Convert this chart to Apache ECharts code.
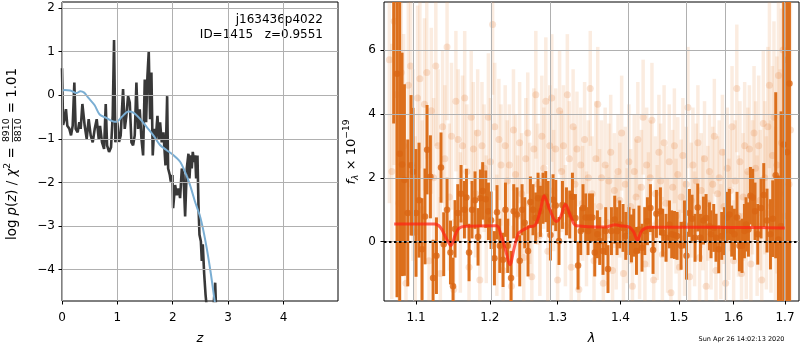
<!DOCTYPE html>
<html>
<head>
<meta charset="utf-8">
<script src="https://cdn.jsdelivr.net/npm/echarts@6/dist/echarts.min.js"></script>
<style>
html,body{margin:0;padding:0;background:#fff;}
#main{width:800px;height:350px;}
</style>
</head>
<body>
<div id="main"></div>
<script>
// ---- left panel: log p(z) ----
var pzZ = [0, 0.02, 0.045, 0.072, 0.096, 0.133, 0.163, 0.193, 0.223, 0.247, 0.283, 0.313, 0.337, 0.368, 0.386, 0.41, 0.446, 0.482, 0.518, 0.555, 0.591, 0.627, 0.663, 0.687, 0.723, 0.76, 0.79, 0.814, 0.85, 0.886, 0.916, 0.94, 0.964, 1.0, 1.03, 1.06, 1.103, 1.133, 1.163, 1.193, 1.224, 1.254, 1.284, 1.314, 1.344, 1.374, 1.404, 1.435, 1.465, 1.495, 1.519, 1.543, 1.567, 1.591, 1.615, 1.639, 1.664, 1.694, 1.724, 1.748, 1.772, 1.802, 1.832, 1.869, 1.899, 1.917, 1.947, 1.965, 1.995, 2.007, 2.043, 2.073, 2.103, 2.133, 2.164, 2.194, 2.224, 2.254, 2.284, 2.302, 2.326, 2.344, 2.362, 2.386, 2.405, 2.423, 2.447, 2.465, 2.483, 2.508, 2.525, 2.543, 2.568, 2.592, 2.616, 2.64, 2.70, 2.767, 2.785, 2.82];
var pzLog = [0.62, -0.68, -0.55, -0.32, -0.70, -0.77, -0.92, -0.70, 0.29, -0.77, -0.85, -0.62, -0.77, -0.20, -0.17, -0.70, -1.0, -0.55, -0.92, -1.08, -0.77, -0.55, -1.0, -0.70, -1.08, -1.23, -0.20, -1.15, -1.30, -1.19, -0.47, 1.27, -1.08, -0.62, -1.07, -0.92, 0.14, -0.77, -0.47, -0.02, -0.17, -1.08, -1.15, -0.92, 0.29, -0.77, -0.32, -1.0, -1.38, 0.36, -0.62, 0.44, 1.0, -0.55, 0.52, -1.38, -0.77, -1.0, -0.47, -1.0, -0.62, -1.08, -0.85, -1.61, -0.02, -1.68, -1.83, -1.98, -1.83, -2.59, -2.06, -2.29, -2.14, -2.36, -1.68, -1.83, -2.78, -1.68, -1.34, -1.91, -1.38, -1.68, -1.30, -1.53, -1.38, -1.91, -1.38, -2.52, -3.2, -3.35, -3.80, -3.42, -4.1, -4.56, -4.9, -5.2, -5.5, -4.3, -5.0, -5.5];
var smZ = [0, 0.05, 0.15, 0.26, 0.33, 0.40, 0.47, 0.59, 0.68, 0.80, 0.92, 0.985, 1.076, 1.20, 1.29, 1.41, 1.53, 1.65, 1.77, 1.89, 2.01, 2.13, 2.22, 2.31, 2.40, 2.50, 2.59, 2.68, 2.755, 2.8];
var smLog = [0.10, 0.12, 0.11, 0.05, 0.09, 0.06, -0.05, -0.23, -0.44, -0.52, -0.60, -0.61, -0.50, -0.37, -0.40, -0.54, -0.73, -0.92, -1.14, -1.26, -1.37, -1.52, -1.75, -2.05, -2.43, -2.81, -3.34, -4.02, -4.7, -5.1];
var zTicks = [0, 1, 2, 3, 4];
var logpTicks = [-4, -3, -2, -1, 0, 1, 2];

// ---- right panel: spectrum [lambda, flux, err] ----
var darkPts = [
  [1.0714, 8.5, 4.8], [1.0756, 5.26, 7.0], [1.0790, 2.75, 6.0], [1.0820, 2.42, 3.5], [1.0850, 1.93, 3.0],
  [1.0893, 0.90, 2.3], [1.0935, 2.39, 2.2], [1.0961, 2.19, 2.0], [1.1000, 0.90, 2.0], [1.1039, 1.30, 1.8],
  [1.1078, -0.24, 1.6], [1.1117, 0.79, 1.5], [1.1144, 2.88, 1.4], [1.1188, 2.03, 1.3], [1.1223, -1.14, 1.2],
  [1.1268, -0.44, 1.2], [1.1329, 2.32, 1.1], [1.1365, -0.08, 1.0], [1.1410, 1.00, 1.0], [1.1456, -0.34, 1.0],
  [1.1491, -1.40, 0.9], [1.1518, 0.40, 0.9], [1.1555, 0.90, 0.9], [1.1600, 1.50, 0.9], [1.1646, 1.00, 0.9],
  [1.1674, 1.38, 0.9], [1.1710, -0.34, 0.9], [1.1751, 1.00, 0.9], [1.1793, 1.30, 0.9], [1.1835, 0.15, 0.9],
  [1.1868, 1.36, 0.9], [1.1900, 1.59, 0.9], [1.1943, 1.33, 0.9], [1.1981, 0.95, 0.9], [1.2018, 0.67, 0.9],
  [1.2066, -0.52, 0.85], [1.2103, 0.92, 0.85], [1.2142, -0.13, 0.85], [1.2189, -0.57, 0.85], [1.2224, 1.00, 0.85],
  [1.2257, -0.13, 0.85], [1.2305, -1.14, 0.85], [1.2344, 0.95, 0.85], [1.2392, 0.85, 0.85], [1.2432, -0.60, 0.8],
  [1.2466, 1.00, 0.8], [1.2505, 0.59, 0.8], [1.2554, -0.29, 0.8], [1.2589, 1.24, 0.8], [1.2628, 1.00, 0.8],
  [1.2668, 0.74, 0.8], [1.2703, 1.36, 0.8], [1.2739, 0.95, 0.8], [1.2778, 1.36, 0.8], [1.2819, 1.41, 0.8],
  [1.2854, 1.10, 0.8], [1.2890, 0.21, 0.8], [1.2930, 1.31, 0.8], [1.2971, 1.13, 0.8], [1.3021, 0.02, 0.75],
  [1.3074, 1.15, 0.75], [1.3136, 0.95, 0.75], [1.3187, 0.85, 0.75], [1.3229, 1.41, 0.75], [1.3276, 0.74, 0.75],
  [1.3317, -0.75, 0.75], [1.3359, 0.33, 0.75], [1.3395, 1.05, 0.75], [1.3438, 0.76, 0.75], [1.3475, 0.33, 0.75],
  [1.3499, 0.76, 0.75], [1.3545, 0.76, 0.75], [1.3582, -0.34, 0.75], [1.3625, 0.23, 0.75], [1.3662, 0.02, 0.75],
  [1.3715, -0.29, 0.75], [1.3759, 0.33, 0.75], [1.3796, -0.86, 0.75], [1.3852, 0.33, 0.75], [1.3906, 0.69, 0.75],
  [1.3944, 0.33, 0.75], [1.3988, 0.54, 0.75], [1.4043, 0.43, 0.75], [1.4088, 0.18, 0.75], [1.4143, 0.33, 0.75],
  [1.4183, 0.10, 0.75], [1.4221, 0.28, 0.75], [1.4267, -0.29, 0.75], [1.4310, 0.38, 0.75], [1.4361, -0.19, 0.75],
  [1.4407, 0.33, 0.75], [1.4453, 0.64, 0.75], [1.4504, 1.05, 0.75], [1.4549, -0.26, 0.75], [1.4607, 0.87, 0.75],
  [1.4676, 0.95, 0.75], [1.4716, 0.28, 0.75], [1.4774, 0.12, 0.75], [1.4833, 0.54, 0.75], [1.4873, 0.23, 0.75],
  [1.4921, 0.21, 0.75], [1.4967, 0.18, 0.75], [1.5038, -0.13, 0.75], [1.5098, 0.54, 0.75], [1.5134, -0.44, 0.75],
  [1.5187, 0.90, 0.75], [1.5234, 0.72, 0.75], [1.5288, 0.12, 0.75], [1.5337, 1.07, 0.75], [1.5386, 0.12, 0.75],
  [1.5440, 0.66, 0.75], [1.5488, 0.74, 0.75], [1.5550, 0.48, 0.75], [1.5579, 0.23, 0.75], [1.5629, 0.43, 0.75],
  [1.5671, 0.12, 0.75], [1.5721, -0.24, 0.75], [1.5777, 0.18, 0.75], [1.5827, 0.33, 0.75], [1.5876, 0.76, 0.8],
  [1.5921, 0.85, 0.8], [1.5964, 0.33, 0.8], [1.6015, 0.23, 0.8], [1.6064, 0.76, 0.8], [1.6110, -0.13, 0.8],
  [1.6159, -0.13, 0.85], [1.6205, 0.33, 0.85], [1.6236, 0.54, 0.85], [1.6282, 0.38, 0.85], [1.6320, 1.44, 0.9],
  [1.6365, 1.38, 0.9], [1.6409, 0.95, 0.9], [1.6462, 0.23, 0.95], [1.6526, 1.05, 0.95], [1.6579, 1.46, 1.0],
  [1.6643, 0.66, 1.0], [1.6710, 0.23, 1.1], [1.6756, 0.72, 1.2], [1.6815, 2.08, 2.6], [1.6869, 0.07, 2.0],
  [1.6921, 0.48, 3.6], [1.6975, 3.04, 8.0], [1.7041, 2.80, 9.0], [1.7089, 4.95, 10.0]
];
var fadedPts = [
  [1.066, 5.7, 4.5], [1.069, 2.2, 4.0], [1.072, 6.9, 4.5], [1.075, 4.6, 4.0], [1.078, 1.2, 3.8], [1.081, 5.3, 3.6],
  [1.084, 3.0, 3.5], [1.087, -1.3, 3.4], [1.090, 4.9, 3.2], [1.093, 5.5, 3.1], [1.096, 2.4, 3.0], [1.099, 0.3, 3.0],
  [1.102, 4.5, 2.9], [1.105, 5.1, 2.8], [1.108, 1.0, 2.8], [1.111, 4.3, 2.7], [1.114, 5.3, 2.7], [1.117, -0.6, 2.6],
  [1.120, 4.1, 2.6], [1.123, 2.0, 2.5], [1.126, 5.5, 2.5], [1.129, 3.0, 2.4], [1.132, -1.0, 2.4], [1.135, 3.6, 2.4],
  [1.138, 2.6, 2.3], [1.141, 6.1, 2.3], [1.144, 1.4, 2.3], [1.147, 3.3, 2.3], [1.150, -1.5, 2.2], [1.153, 4.4, 2.2],
  [1.156, 3.2, 2.2], [1.159, 0.6, 2.2], [1.162, 3.0, 2.2], [1.165, 4.5, 2.1], [1.168, 2.2, 2.1], [1.171, -0.8, 2.1],
  [1.174, 3.9, 2.1], [1.177, 2.9, 2.1], [1.180, 1.5, 2.0], [1.183, 3.4, 2.0], [1.186, -1.2, 2.0], [1.189, 3.0, 2.0],
  [1.192, 2.3, 2.0], [1.195, 0.7, 2.0], [1.198, 3.9, 2.0], [1.201, 2.5, 2.0], [1.204, 6.8, 2.2], [1.207, 3.6, 2.0],
  [1.210, 0.2, 1.9], [1.213, 3.2, 1.9], [1.216, 2.4, 1.9], [1.219, -0.9, 1.9], [1.222, 3.0, 1.9], [1.225, 1.9, 1.9],
  [1.228, 2.4, 1.9], [1.231, -1.4, 1.9], [1.234, 3.5, 1.9], [1.237, 2.1, 1.9], [1.240, 0.8, 1.9], [1.243, 3.1, 1.9],
  [1.246, 1.5, 1.9], [1.249, -0.5, 1.9], [1.252, 2.6, 1.9], [1.255, 3.4, 1.9], [1.258, 1.2, 1.9], [1.261, -1.1, 1.9],
  [1.264, 2.9, 1.9], [1.267, 4.6, 2.0], [1.270, 1.8, 1.9], [1.273, 0.2, 1.9], [1.276, 3.3, 1.9], [1.279, 2.3, 1.9],
  [1.282, 4.4, 2.0], [1.285, -0.3, 1.9], [1.288, 3.0, 1.9], [1.291, 4.5, 2.0], [1.294, 1.6, 1.9], [1.297, 2.9, 1.9],
  [1.300, -1.2, 1.9], [1.303, 4.1, 1.9], [1.306, 2.2, 1.9], [1.309, 3.0, 1.9], [1.312, 0.5, 1.9], [1.315, 4.6, 1.9],
  [1.318, 2.6, 1.8], [1.321, -0.8, 1.8], [1.324, 3.6, 1.8], [1.327, 1.8, 1.8], [1.330, 2.9, 1.8], [1.333, -1.5, 1.8],
  [1.336, 2.4, 1.8], [1.339, 1.2, 1.8], [1.342, 3.2, 1.8], [1.345, 0.4, 1.8], [1.348, 2.0, 1.8], [1.351, 4.8, 1.8],
  [1.354, 1.5, 1.8], [1.357, -0.6, 1.8], [1.360, 2.6, 1.8], [1.363, 4.3, 1.8], [1.366, 1.1, 1.8], [1.369, 2.0, 1.8],
  [1.372, -1.3, 1.8], [1.375, 2.4, 1.8], [1.378, 0.6, 1.8], [1.381, 1.9, 1.8], [1.384, 2.8, 1.8], [1.387, -0.9, 1.8],
  [1.390, 1.6, 1.8], [1.393, 0.3, 1.8], [1.396, 2.2, 1.8], [1.399, 1.3, 1.8], [1.402, 3.4, 1.8], [1.405, -1.0, 1.8],
  [1.408, 1.8, 1.8], [1.411, 0.5, 1.8], [1.414, 2.5, 1.8], [1.417, 1.1, 1.8], [1.420, -1.4, 1.8], [1.423, 2.2, 1.8],
  [1.426, 1.4, 1.8], [1.429, 3.2, 1.8], [1.432, 0.0, 1.8], [1.435, 1.7, 1.8], [1.438, 3.9, 1.8], [1.441, -0.7, 1.8],
  [1.444, 2.4, 1.8], [1.447, 1.0, 1.8], [1.450, 2.0, 1.8], [1.453, 3.8, 1.8], [1.456, -1.2, 1.8], [1.459, 1.5, 1.8],
  [1.462, 0.6, 1.8], [1.465, 2.8, 1.8], [1.468, 1.9, 1.8], [1.471, -0.4, 1.8], [1.474, 3.1, 1.8], [1.477, 1.2, 1.8],
  [1.480, 0.2, 1.8], [1.483, 2.5, 1.8], [1.486, -1.6, 1.8], [1.489, 1.7, 1.8], [1.492, 3.0, 1.8], [1.495, 0.8, 1.8],
  [1.498, 2.1, 1.8], [1.501, -0.8, 1.8], [1.504, 1.4, 1.8], [1.507, 2.7, 1.8], [1.510, 0.1, 1.8], [1.513, 1.8, 1.8],
  [1.516, 4.2, 1.9], [1.519, -1.1, 1.8], [1.522, 1.3, 1.8], [1.525, 2.4, 1.8], [1.528, 0.4, 1.8], [1.531, 1.9, 1.8],
  [1.534, 3.1, 1.8], [1.537, -0.5, 1.8], [1.540, 1.6, 1.8], [1.543, 0.9, 1.8], [1.546, 2.6, 1.8], [1.549, -1.4, 1.8],
  [1.552, 1.2, 1.8], [1.555, 2.2, 1.8], [1.558, 0.3, 1.8], [1.561, 1.8, 1.8], [1.564, 3.3, 1.8], [1.567, -0.9, 1.8],
  [1.570, 1.5, 1.8], [1.573, 2.0, 1.8], [1.576, 0.0, 1.8], [1.579, 2.8, 1.8], [1.582, 1.1, 1.8], [1.585, -1.3, 1.9],
  [1.588, 2.3, 1.9], [1.591, 0.7, 1.9], [1.594, 1.6, 1.9], [1.597, 3.6, 1.9], [1.600, -0.6, 1.9], [1.603, 1.9, 1.9],
  [1.606, 4.8, 2.0], [1.609, 0.8, 1.9], [1.612, 2.5, 1.9], [1.615, -1.0, 1.9], [1.618, 1.4, 2.0], [1.621, 3.0, 2.0],
  [1.624, 0.2, 2.0], [1.627, 2.2, 2.0], [1.630, 2.9, 2.0], [1.633, -0.7, 2.0], [1.636, 1.7, 2.1], [1.639, 3.4, 2.1],
  [1.642, 2.3, 2.1], [1.645, 0.5, 2.2], [1.648, 3.0, 2.2], [1.651, 1.3, 2.2], [1.654, -1.2, 2.3], [1.657, 3.7, 2.3],
  [1.660, 2.0, 2.4], [1.663, 0.9, 2.4], [1.666, 3.6, 2.5], [1.669, 4.9, 2.6], [1.672, 1.1, 2.7], [1.675, 2.7, 2.8],
  [1.678, 3.9, 3.0], [1.681, 0.4, 3.2], [1.684, 2.4, 3.4], [1.687, 5.2, 3.6], [1.690, 1.5, 3.9], [1.693, 3.1, 4.2],
  [1.696, 6.0, 4.5], [1.699, 0.8, 5.0], [1.702, 2.9, 5.5], [1.705, 5.7, 6.0], [1.708, 1.8, 6.5], [1.711, 3.5, 7.0]
];
var modelLam = [1.072, 1.1244, 1.132, 1.140, 1.1463, 1.152, 1.1573, 1.1674, 1.2094, 1.216, 1.223, 1.2288, 1.235, 1.241, 1.2455, 1.2554, 1.266, 1.274, 1.2795, 1.288, 1.2982, 1.305, 1.312, 1.320, 1.3291, 1.3771, 1.384, 1.3906, 1.400, 1.4154, 1.422, 1.4284, 1.436, 1.4492, 1.55, 1.65, 1.6995];
var modelFlux = [0.55, 0.55, 0.45, 0.10, -0.12, 0.20, 0.42, 0.48, 0.50, 0.20, -0.30, -0.72, -0.20, 0.25, 0.33, 0.45, 0.52, 1.00, 1.44, 1.00, 0.63, 0.80, 1.17, 0.80, 0.50, 0.46, 0.50, 0.53, 0.50, 0.45, 0.30, 0.05, 0.35, 0.45, 0.45, 0.44, 0.43];
var lamTicks = [1.1, 1.2, 1.3, 1.4, 1.5, 1.6, 1.7];
var fluxTicks = [0, 2, 4, 6];

var FONT = 'DejaVu Sans';
var lg = function (v) { return Math.log(v) / Math.LN10; };
var minus = function (v) { return v < 0 ? '\u2212' + Math.abs(v) : String(v); };

// rotated axis title made of pieces (math-like label)
var ctx = document.createElement('canvas').getContext('2d');
function textW(t, size, italic) {
    ctx.font = (italic ? 'italic ' : '') + size + 'px "' + FONT + '"';
    return ctx.measureText(t).width;
}
function sideLabel(cx, cy, parts, targetLen) {
    var widthAt = function (s) {
        var tot = 0;
        parts.forEach(function (p) {
            var fs = s * (p.sc || 1);
            p.w = p.frac ? Math.max(textW(p.frac[0], fs), textW(p.frac[1], fs)) + 2 : textW(p.t, fs, p.it);
            tot += p.w;
        });
        return tot;
    };
    var s = 13 * targetLen / widthAt(13);
    var total = widthAt(s);
    var x = -total / 2, kids = [];
    parts.forEach(function (p) {
        var fs = s * (p.sc || 1);
        if (p.frac) {
            [0, 1].forEach(function (k) {
                kids.push({type: 'text', x: x + p.w / 2, y: (k ? 0.48 : -0.45) * s,
                    style: {text: p.frac[k], fontSize: fs, fontFamily: FONT, fill: '#000',
                        align: 'center', verticalAlign: 'middle', textAlign: 'center', textVerticalAlign: 'middle'}});
            });
            kids.push({type: 'line', shape: {x1: x + 1, y1: 0, x2: x + p.w - 1, y2: 0}, style: {stroke: '#000', lineWidth: 0.8}});
        } else {
            kids.push({type: 'text', x: x, y: (p.dy || 0) * s,
                style: {text: p.t, fontSize: fs, fontFamily: FONT, fontStyle: p.it ? 'italic' : 'normal', fill: '#000',
                    align: 'left', verticalAlign: 'middle', textAlign: 'left', textVerticalAlign: 'middle'}});
        }
        x += p.w;
    });
    return {type: 'group', x: cx, y: cy, rotation: Math.PI / 2, children: kids};
}

function errBars(color, width) {
    return function (params, api) {
        var x = api.value(0), y = api.value(1), e = api.value(2);
        var a = api.coord([x, y - e]), b = api.coord([x, y + e]);
        return {type: 'line', shape: {x1: a[0], y1: a[1], x2: b[0], y2: b[1]},
            style: {stroke: color, lineWidth: width}};
    };
}

// grid lines drawn as mark lines at the tick values
function gridLines(xi, xs, ys) {
    var d = xs.map(function (v) { return {xAxis: v}; }).concat(ys.map(function (v) { return {yAxis: v}; }));
    return {type: 'line', xAxisIndex: xi, yAxisIndex: xi, data: [], z: 1, silent: true,
        markLine: {silent: true, symbol: 'none', label: {show: false}, animation: false, data: d,
            lineStyle: {color: '#b0b0b0', width: 1, type: 'solid'}}};
}

var tickStyle = {show: true, inside: false, length: 3.5, lineStyle: {color: '#000', width: 1}};
var labelStyle = {color: '#000', fontSize: 12, fontFamily: FONT};
var noLine = {show: false, onZero: false};

var toXY = function (xs, ys) { return xs.map(function (x, i) { return [x, ys[i]]; }); };
var specData = function (pts) { return pts.map(function (p) { return [lg(p[0]), p[1], p[2]]; }); };

var chart = echarts.init(document.getElementById('main'), null, {renderer: 'canvas'});
chart.setOption({
    animation: false,
    textStyle: {fontFamily: FONT},
    grid: [
        {left: 62, right: 462, top: 2, bottom: 46, show: true, borderColor: '#000', borderWidth: 1, backgroundColor: 'transparent'},
        {left: 384, right: 1, top: 2, bottom: 46, show: true, borderColor: '#000', borderWidth: 1, backgroundColor: 'transparent'}
    ],
    xAxis: [
        {gridIndex: 0, type: 'value', min: 0, max: 4.985,
            axisLine: noLine, axisTick: Object.assign({customValues: zTicks}, tickStyle),
            axisLabel: Object.assign({customValues: zTicks, margin: 11, formatter: minus}, labelStyle),
            splitLine: {show: false},
            name: 'z', nameLocation: 'middle', nameGap: 31,
            nameTextStyle: {fontSize: 13, fontStyle: 'italic', color: '#000', fontFamily: FONT}},
        {gridIndex: 1, type: 'value', min: lg(1.0592), max: lg(1.7283),
            axisLine: noLine, axisTick: Object.assign({customValues: lamTicks.map(lg)}, tickStyle),
            axisLabel: Object.assign({customValues: lamTicks.map(lg), margin: 11,
                formatter: function (v) { return Math.pow(10, v).toFixed(1); }}, labelStyle),
            splitLine: {show: false},
            name: '\u03bb', nameLocation: 'middle', nameGap: 31,
            nameTextStyle: {fontSize: 13, fontStyle: 'italic', color: '#000', fontFamily: FONT}}
    ],
    yAxis: [
        {gridIndex: 0, type: 'value', min: -4.72, max: 2.14,
            axisLine: noLine, axisTick: Object.assign({customValues: logpTicks}, tickStyle),
            axisLabel: Object.assign({customValues: logpTicks, margin: 7, formatter: minus}, labelStyle),
            splitLine: {show: false}},
        {gridIndex: 1, type: 'value', min: -1.859, max: 7.506,
            axisLine: noLine, axisTick: Object.assign({customValues: fluxTicks}, tickStyle),
            axisLabel: Object.assign({customValues: fluxTicks, margin: 8, formatter: minus}, labelStyle),
            splitLine: {show: false}}
    ],
    series: [
        gridLines(0, zTicks, logpTicks),
        gridLines(1, lamTicks.map(lg), fluxTicks),
        {type: 'line', xAxisIndex: 0, yAxisIndex: 0, data: toXY(pzZ, pzLog), showSymbol: false,
            lineStyle: {color: '#383838', width: 2.6}, z: 3},
        {type: 'line', xAxisIndex: 0, yAxisIndex: 0, data: toXY(smZ, smLog), showSymbol: false, smooth: 0.3,
            lineStyle: {color: '#7aaed3', width: 2}, z: 4},
        // faint spectra (other exposures)
        {type: 'custom', xAxisIndex: 1, yAxisIndex: 1, data: specData(fadedPts), clip: true,
            renderItem: errBars('rgba(232,140,70,0.17)', 3.5), z: 2},
        {type: 'scatter', xAxisIndex: 1, yAxisIndex: 1, data: specData(fadedPts), symbolSize: 7,
            itemStyle: {color: 'rgba(226,125,55,0.27)'}, z: 2},
        // binned spectrum
        {type: 'custom', xAxisIndex: 1, yAxisIndex: 1, data: specData(darkPts), clip: true,
            renderItem: errBars('#dc6f1c', 3), z: 3},
        {type: 'scatter', xAxisIndex: 1, yAxisIndex: 1, data: specData(darkPts), symbolSize: 6.5,
            itemStyle: {color: '#d96513'}, z: 3},
        // model
        {type: 'line', xAxisIndex: 1, yAxisIndex: 1, data: toXY(modelLam.map(lg), modelFlux), showSymbol: false,
            smooth: 0.35, lineStyle: {color: 'rgba(255,35,20,0.72)', width: 3}, z: 5,
            markLine: {silent: true, symbol: 'none', label: {show: false}, data: [{yAxis: 0}],
                lineStyle: {color: '#000', width: 2, type: [2.5, 2.5]}}}
    ],
    graphic: [
        sideLabel(12.5, 154, [
            {t: 'log '}, {t: 'p', it: 1}, {t: '('}, {t: 'z', it: 1}, {t: ') / '}, {t: '\u03c7', it: 1},
            {t: '2', sc: 0.7, dy: -0.35}, {t: ' = '}, {frac: ['8910', '8810'], sc: 0.7}, {t: ' = 1.01'}
        ], 172),
        sideLabel(352, 152, [
            {t: 'f', it: 1}, {t: '\u03bb', it: 1, sc: 0.7, dy: 0.3}, {t: ' \u00d7 10'}, {t: '\u221219', sc: 0.7, dy: -0.4}
        ], 65),
        {type: 'text', x: 323, y: 19.5, style: {text: 'j163436p4022', fontSize: 12, fontFamily: FONT, fill: '#000',
            align: 'right', verticalAlign: 'middle', textAlign: 'right', textVerticalAlign: 'middle'}},
        {type: 'text', x: 323, y: 34.5, style: {text: 'ID=1415   z=0.9551', fontSize: 12, fontFamily: FONT, fill: '#000',
            align: 'right', verticalAlign: 'middle', textAlign: 'right', textVerticalAlign: 'middle'}},
        {type: 'text', x: 741.5, y: 339.5, style: {text: 'Sun Apr 26 14:02:13 2020', fontSize: 6.5, fontFamily: FONT, fill: '#000',
            align: 'center', verticalAlign: 'middle', textAlign: 'center', textVerticalAlign: 'middle'}}
    ]
});
</script>
</body>
</html>
